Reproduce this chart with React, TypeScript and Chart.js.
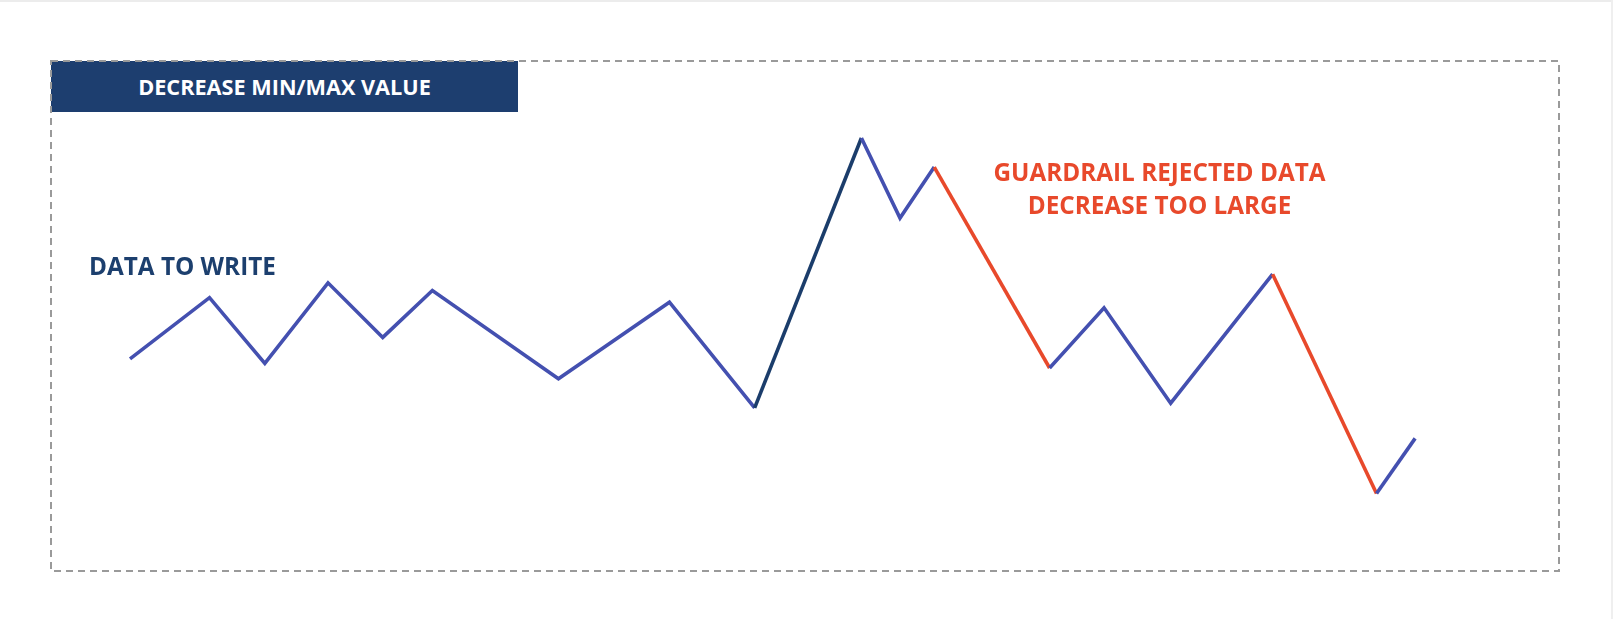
import React, { useEffect, useRef } from "react";
import { Chart, registerables } from "chart.js";

Chart.register(...registerables);

// x positions (relative time, 0..100) and values (0..100)
const xValues = [5.24, 10.51, 14.18, 18.37, 22.0, 25.29, 33.65, 41.01, 46.66, 53.74, 56.3, 58.57, 66.22, 69.83, 74.25, 81.01, 87.9, 90.46];
const yValues = [41.6, 53.6, 40.7, 56.5, 45.8, 55.0, 37.7, 52.7, 32.0, 84.9, 69.2, 79.2, 39.8, 51.6, 32.9, 58.2, 15.2, 26.0];
// segment kind for each segment starting at point i: "w" written, "n" navy, "r" rejected
const segmentKinds = ["w", "w", "w", "w", "w", "w", "w", "w", "n", "w", "w", "r", "w", "w", "w", "r", "w"];

const TITLE = "DECREASE MIN/MAX VALUE";
const LEFT_LABEL = "DATA TO WRITE";
const RIGHT_LABEL = ["GUARDRAIL REJECTED DATA", "DECREASE TOO LARGE"];

const BLUE = "#4450b0";
const NAVY = "#1b3d6b";
const RED = "#e8492b";
const segColor: Record<string, string> = { w: BLUE, n: NAVY, r: RED };

const W = 1613;
const H = 619;

const dashedBox = {
  id: "dashedBox",
  beforeDatasetsDraw(chart: any) {
    const { ctx, chartArea } = chart;
    ctx.save();
    ctx.strokeStyle = "#9a9a9a";
    ctx.lineWidth = 2;
    ctx.setLineDash([7, 5]);
    ctx.strokeRect(chartArea.left, chartArea.top, chartArea.right - chartArea.left, chartArea.bottom - chartArea.top);
    ctx.restore();
  },
};

export default function App() {
  const ref = useRef<HTMLCanvasElement | null>(null);

  useEffect(() => {
    if (!ref.current) return;
    const chart = new Chart(ref.current, {
      type: "line",
      data: {
        datasets: [
          {
            data: xValues.map((x, i) => ({ x, y: yValues[i] })),
            borderColor: BLUE,
            borderWidth: 3.6,
            pointRadius: 0,
            tension: 0,
            segment: {
              borderColor: (c: any) => segColor[segmentKinds[c.p0DataIndex]] || BLUE,
            },
          },
        ],
      },
      options: {
        animation: false,
        responsive: false,
        maintainAspectRatio: false,
        layout: { padding: { left: 51, top: 61, right: 54, bottom: 48 } },
        plugins: { legend: { display: false }, tooltip: { enabled: false }, title: { display: false } },
        scales: {
          x: { type: "linear", min: 0, max: 100, display: false },
          y: { type: "linear", min: 0, max: 100, display: false },
        },
      },
      plugins: [dashedBox],
    });
    return () => chart.destroy();
  }, []);

  const font = "'Open Sans', 'Noto Sans', sans-serif";

  return (
    <div style={{ position: "fixed", left: 0, top: 0, width: W, height: H, background: "#fff", overflow: "hidden", fontFamily: font }}>
      <div style={{ position: "absolute", left: 0, top: 0, width: W, height: 2, background: "#ececec" }} />
      <div style={{ position: "absolute", right: 0, top: 0, width: 2, height: H, background: "#efefef" }} />
      <div
        style={{
          position: "absolute",
          left: 51,
          top: 61,
          width: 467,
          height: 51,
          background: "#1d3e6f",
          color: "#fff",
          fontWeight: 700,
          fontSize: 21.7,
          display: "flex",
          alignItems: "center",
          justifyContent: "center",
        }}
      >
        {TITLE}
      </div>
      <canvas ref={ref} width={W} height={H} style={{ position: "absolute", left: 0, top: 0, width: W, height: H }} />
      <div style={{ position: "absolute", left: 89, top: 251, lineHeight: "30px", fontSize: 24.3, fontWeight: 700, color: "#1c3f6e", whiteSpace: "nowrap" }}>
        {LEFT_LABEL}
      </div>
      <div
        style={{
          position: "absolute",
          left: 1159.5,
          top: 155,
          transform: "translateX(-50%)",
          lineHeight: "33px",
          fontSize: 24.3,
          fontWeight: 700,
          color: RED,
          textAlign: "center",
          whiteSpace: "nowrap",
        }}
      >
        {RIGHT_LABEL.map((l) => (
          <div key={l}>{l}</div>
        ))}
      </div>
    </div>
  );
}
